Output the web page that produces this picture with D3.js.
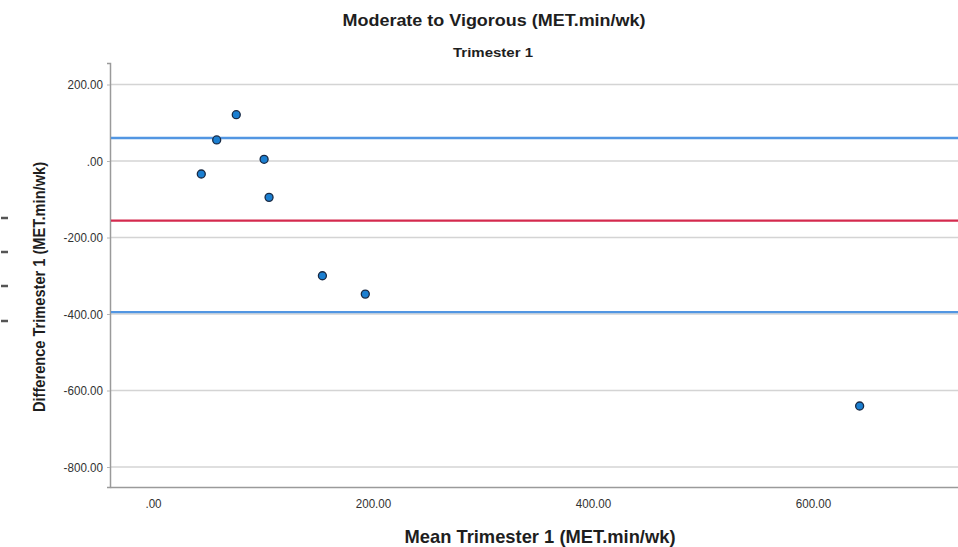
<!DOCTYPE html>
<meta charset="UTF-8">
<head>
    <script src="https://d3js.org/d3.v7.min.js"></script>
    <style>
        body { margin: 0; background: #fff; }
        text { font-family: "Liberation Sans", Arial, sans-serif; fill: #1e1e1e; }
        .tick text { font-size: 13.5px; fill: #333; }
        .grid line { stroke: #d4d4d4; stroke-width: 1.5px; }
        .title { font-size: 17px; font-weight: bold; }
        .subtitle { font-size: 13.5px; font-weight: bold; }
        .axis-title { font-size: 19px; font-weight: bold; }
    </style>
</head>
<body>
<script>
    // mean vs difference, trimester 1
    var meanVals = [43.9, 57.9, 75.7, 101, 105.5, 154, 193, 642.4];
    var diffVals = [-34, 55, 121, 4.4, -95, -300, -348, -640.5];

    // bias and limits of agreement
    var upperLoA = 60;
    var bias = -156;
    var lowerLoA = -395;

    var xTicks = [0, 200, 400, 600];
    var yTicks = [200, 0, -200, -400, -600, -800];

    var width = 958, height = 547;
    // plot edges (window.top is read-only, so use other names)
    var plotLeft = 110, plotBottom = 487, plotTop = 63, plotRight = 958;

    var svg = d3.select("body").append("svg")
        .attr("width", width)
        .attr("height", height);

    // x: 0 -> 153px, 600 -> 813px
    var x = d3.scaleLinear()
        .domain([(plotLeft - 153) / 1.1, (plotRight - 153) / 1.1])
        .range([plotLeft, plotRight]);

    // y: 0 -> 161px, 76.5px per 200
    var y = d3.scaleLinear()
        .domain([(161 - plotBottom) / 0.3825, (161 - plotTop) / 0.3825])
        .range([plotBottom, plotTop]);

    var fmt = function (d) {
        var s = d3.format(".2f")(Math.abs(d) < 1e-9 ? 0 : d);
        return s.replace(/^(-?)0\./, "$1.").replace("−", "-");
    };

    // squeeze text to a given width (the original font is narrow)
    function squeeze(sel, factor) {
        sel.each(function () {
            var w = this.getComputedTextLength();
            d3.select(this)
                .attr("textLength", w * factor)
                .attr("lengthAdjust", "spacingAndGlyphs");
        });
    }

    // horizontal gridlines
    svg.append("g")
        .attr("class", "grid")
        .selectAll("line")
        .data(yTicks)
        .enter()
        .append("line")
        .attr("x1", plotLeft)
        .attr("x2", plotRight)
        .attr("y1", function (d) { return y(d); })
        .attr("y2", function (d) { return y(d); });

    // y axis
    var yAxis = svg.append("g")
        .attr("transform", "translate(" + plotLeft + ",0)")
        .call(d3.axisLeft(y).tickValues(yTicks).tickFormat(fmt).tickSize(3).tickPadding(4));
    yAxis.select(".domain").attr("stroke", "#9a9a9a").attr("stroke-width", 1.5);
    yAxis.selectAll(".tick line").attr("stroke", "#b5b5b5");
    squeeze(yAxis.selectAll(".tick text"), 0.86);

    // x axis
    var xAxis = svg.append("g")
        .attr("transform", "translate(0," + plotBottom + ")")
        .call(d3.axisBottom(x).tickValues(xTicks).tickFormat(fmt).tickSize(0).tickPadding(11));
    xAxis.select(".domain").attr("stroke", "#9a9a9a").attr("stroke-width", 1.5);
    squeeze(xAxis.selectAll(".tick text"), 0.86);

    // reference lines
    var refs = [
        { v: upperLoA, c: "#5296e2" },
        { v: bias, c: "#d42a4e" },
        { v: lowerLoA, c: "#5296e2" }
    ];
    svg.append("g")
        .selectAll("line")
        .data(refs)
        .enter()
        .append("line")
        .attr("x1", plotLeft + 1)
        .attr("x2", plotRight)
        .attr("y1", function (d) { return y(d.v); })
        .attr("y2", function (d) { return y(d.v); })
        .attr("stroke", function (d) { return d.c; })
        .attr("stroke-width", 2.4);

    // points
    svg.append("g")
        .selectAll("circle")
        .data(meanVals)
        .enter()
        .append("circle")
        .attr("cx", function (d) { return x(d); })
        .attr("cy", function (d, i) { return y(diffVals[i]); })
        .attr("r", 4)
        .attr("fill", "#1b7fd1")
        .attr("stroke", "#1a2a44")
        .attr("stroke-width", 1.3);

    // titles
    svg.append("text")
        .attr("class", "title")
        .attr("x", 494)
        .attr("y", 26)
        .attr("text-anchor", "middle")
        .attr("textLength", 303)
        .attr("lengthAdjust", "spacingAndGlyphs")
        .text("Moderate to Vigorous (MET.min/wk)");

    svg.append("text")
        .attr("class", "subtitle")
        .attr("x", 493)
        .attr("y", 57)
        .attr("text-anchor", "middle")
        .attr("textLength", 80)
        .attr("lengthAdjust", "spacingAndGlyphs")
        .text("Trimester 1");

    svg.append("text")
        .attr("class", "axis-title")
        .attr("x", 540)
        .attr("y", 543)
        .attr("text-anchor", "middle")
        .attr("textLength", 271)
        .attr("lengthAdjust", "spacingAndGlyphs")
        .text("Mean Trimester 1 (MET.min/wk)");

    svg.append("text")
        .attr("class", "axis-title")
        .attr("transform", "translate(45,287) rotate(-90)")
        .attr("text-anchor", "middle")
        .style("font-size", "17px")
        .attr("textLength", 250)
        .attr("lengthAdjust", "spacingAndGlyphs")
        .text("Difference Trimester 1 (MET.min/wk)");

    // small dashes at the left edge
    svg.append("g")
        .selectAll("line")
        .data([218, 252, 286, 321])
        .enter()
        .append("line")
        .attr("x1", 1)
        .attr("x2", 8)
        .attr("y1", function (d) { return d; })
        .attr("y2", function (d) { return d; })
        .attr("stroke", "#555")
        .attr("stroke-width", 2.5);
</script>
</body>
